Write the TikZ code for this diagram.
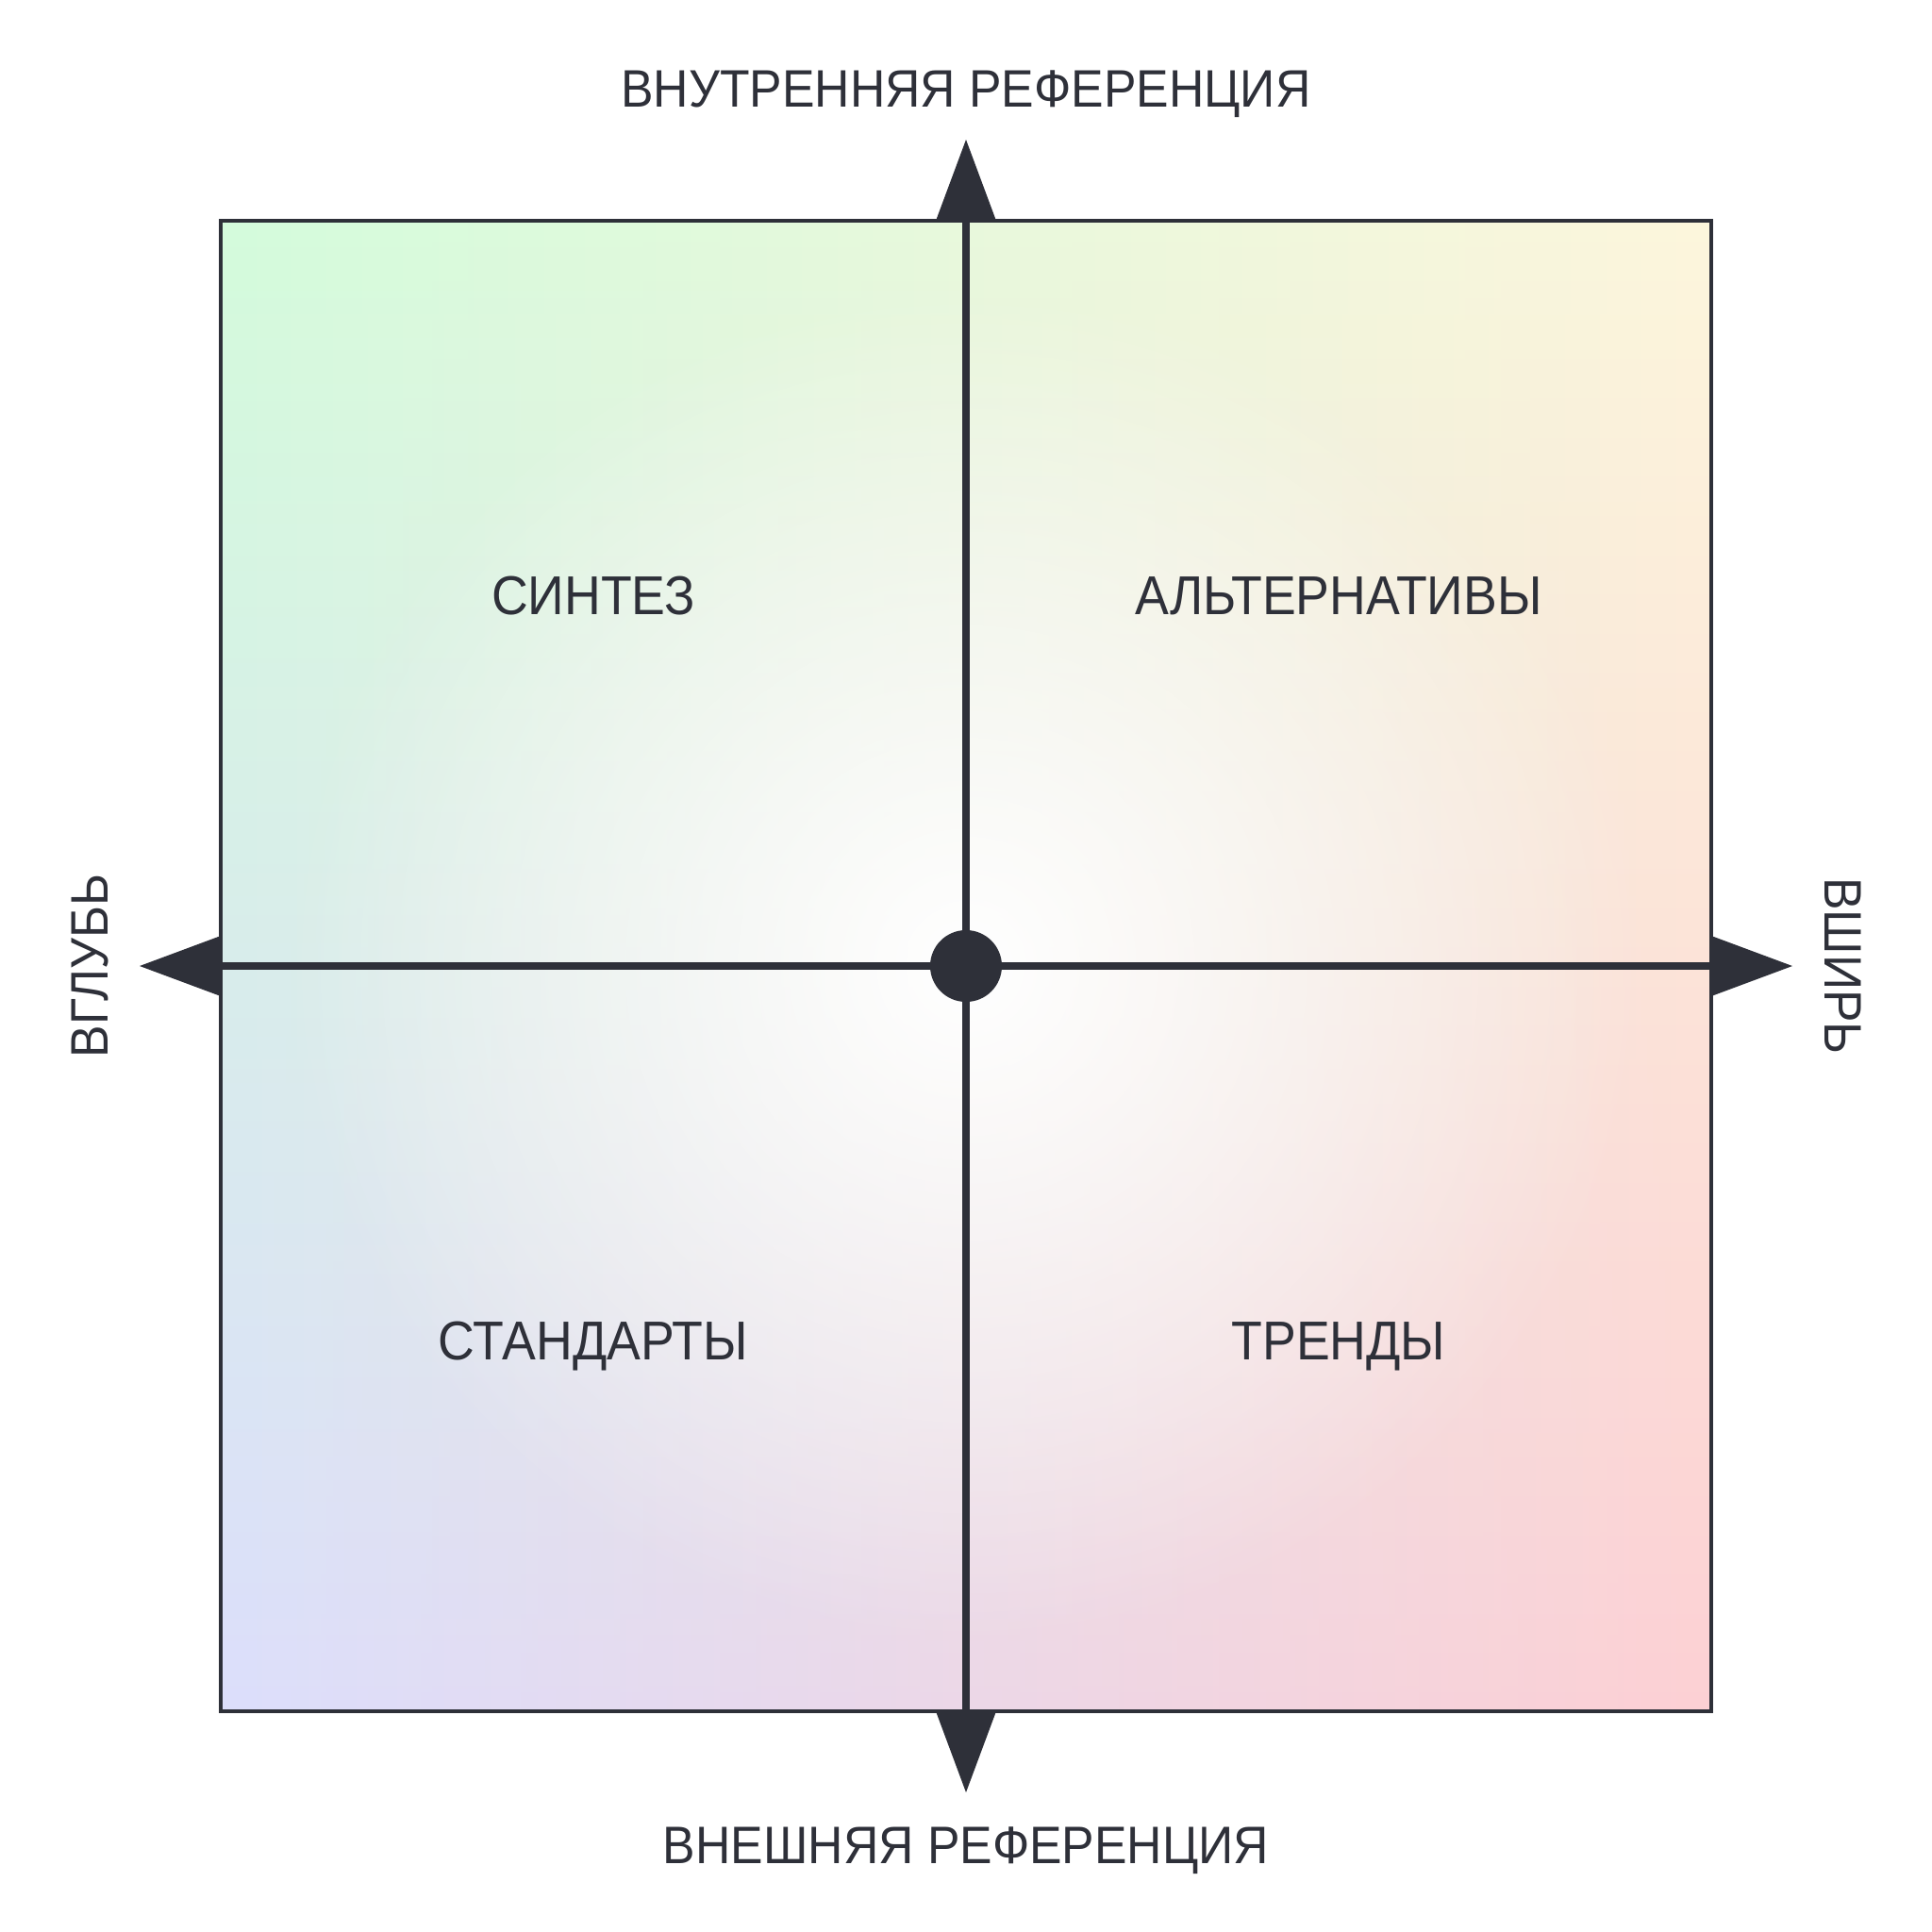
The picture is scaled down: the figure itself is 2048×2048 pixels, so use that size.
\documentclass[tikz,border=0pt]{standalone}
\usepackage{fontspec}
\setmainfont[FakeStretch=0.925]{Liberation Sans}
\usetikzlibrary{fadings}
\definecolor{ink}{HTML}{2E3039}
\definecolor{cTL}{HTML}{D4FCDC}
\definecolor{cTR}{HTML}{FDF6DC}
\definecolor{cBL}{HTML}{DCDFFC}
\definecolor{cBR}{HTML}{FDD0D4}
\tikzfading[name=fadelr, left color=transparent!100, right color=transparent!0]
\tikzfading[name=fadecenter, inner color=transparent!0, outer color=transparent!100]
\begin{document}
\begin{tikzpicture}[x=0.01cm,y=-0.01cm,
  lbl/.style={text=ink, font=\fontsize{15.9pt}{18pt}\selectfont, inner sep=0pt, anchor=base},
  qlbl/.style={lbl, font=\fontsize{16.5pt}{19pt}\selectfont},
  frame/.style={draw=ink, line width=0.04cm},
  axisline/.style={draw=ink, line width=0.08cm},
  tip/.style={fill=ink}]
\useasboundingbox (0,0) rectangle (2048,2048);
% background shading
\shade[top color=cTL, bottom color=cBL] (234,234) rectangle (1814,1814);
\shade[top color=cTR, bottom color=cBR, path fading=fadelr] (234,234) rectangle (1814,1814);
\begin{scope}
\clip (234,234) rectangle (1814,1814);
\fill[white, path fading=fadecenter] (1024,1024) circle (720);
\end{scope}
% frame
\draw[frame] (234,234) rectangle (1814,1814);
% axes
\coordinate (T) at (1024,234);
\coordinate (B) at (1024,1814);
\coordinate (L) at (234,1024);
\coordinate (R) at (1814,1024);
\draw[axisline] (T) -- (B);
\draw[axisline] (L) -- (R);
% arrow heads
\fill[tip] (1024,148) -- (992,234) -- (1056,234) -- cycle;
\fill[tip] (1024,1900) -- (992,1814) -- (1056,1814) -- cycle;
\fill[tip] (148,1024) -- (234,992) -- (234,1056) -- cycle;
\fill[tip] (1900,1024) -- (1814,992) -- (1814,1056) -- cycle;
\node[circle, fill=ink, minimum size=0.76cm, inner sep=0pt] (c) at (1024,1024) {};
% axis labels
\node[lbl] (top) at (1024,113) {ВНУТРЕННЯЯ РЕФЕРЕНЦИЯ};
\node[lbl] (bot) at (1024,1975) {ВНЕШНЯЯ РЕФЕРЕНЦИЯ};
\node[lbl, rotate=90] (left) at (114,1024) {ВГЛУБЬ};
\node[lbl, rotate=-90] (right) at (1934,1024) {ВШИРЬ};
% quadrant labels
\node[qlbl] (q1) at (629,651) {СИНТЕЗ};
\node[qlbl] (q2) at (1419,651) {АЛЬТЕРНАТИВЫ};
\node[qlbl] (q3) at (629,1441) {СТАНДАРТЫ};
\node[qlbl] (q4) at (1419,1441) {ТРЕНДЫ};
\end{tikzpicture}
\end{document}
